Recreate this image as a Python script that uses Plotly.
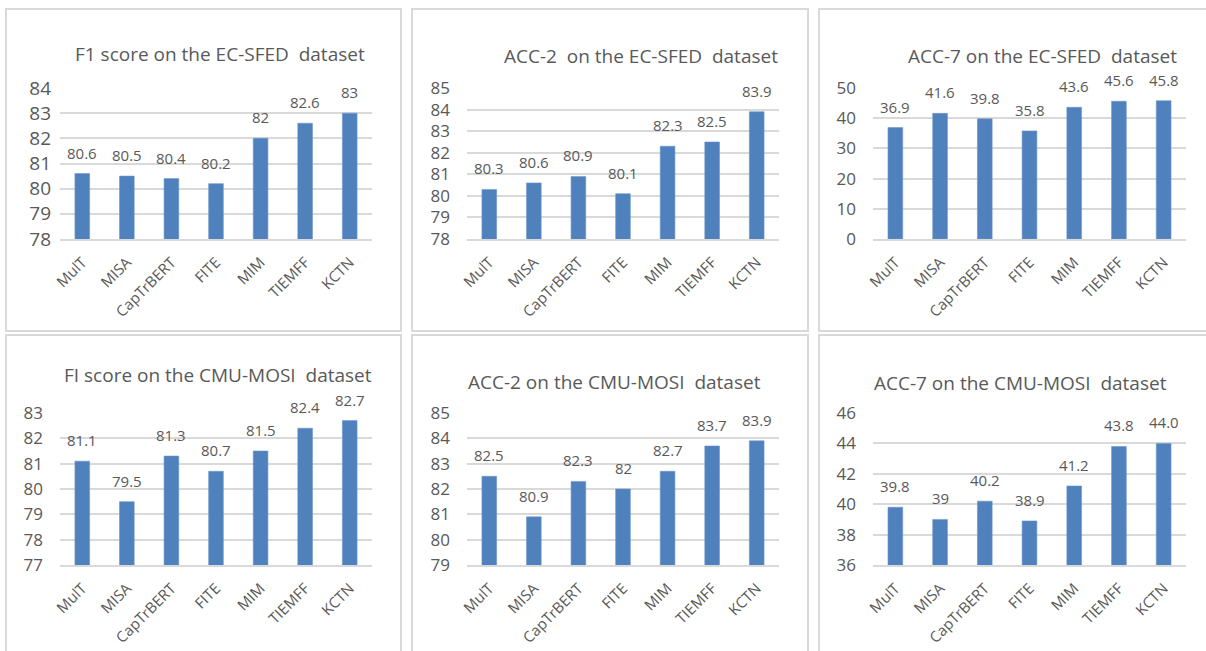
import plotly.graph_objects as go

# Models compared in every panel
models = ["MulT", "MISA", "CapTrBERT", "FITE", "MIM", "TIEMFF", "KCTN"]

# Scores as printed above the bars (strings keep the printed precision)
f1_ecsfed = ["80.6", "80.5", "80.4", "80.2", "82", "82.6", "83"]
acc2_ecsfed = ["80.3", "80.6", "80.9", "80.1", "82.3", "82.5", "83.9"]
acc7_ecsfed = ["36.9", "41.6", "39.8", "35.8", "43.6", "45.6", "45.8"]
f1_mosi = ["81.1", "79.5", "81.3", "80.7", "81.5", "82.4", "82.7"]
acc2_mosi = ["82.5", "80.9", "82.3", "82", "82.7", "83.7", "83.9"]
acc7_mosi = ["39.8", "39", "40.2", "38.9", "41.2", "43.8", "44.0"]

titles = [
    "F1 score on the EC-SFED&nbsp;&nbsp;dataset",
    "ACC-2&nbsp;&nbsp;on the EC-SFED&nbsp;&nbsp;dataset",
    "ACC-7 on the EC-SFED&nbsp;&nbsp;dataset",
    "FI score on the CMU-MOSI&nbsp;&nbsp;dataset",
    "ACC-2 on the CMU-MOSI&nbsp;&nbsp;dataset",
    "ACC-7 on the CMU-MOSI&nbsp;&nbsp;dataset",
]
series = [f1_ecsfed, acc2_ecsfed, acc7_ecsfed, f1_mosi, acc2_mosi, acc7_mosi]

# y-axis (min, max, step) per panel
y_scales = [(78, 84, 1), (78, 85, 1), (0, 50, 10), (77, 83, 1), (79, 85, 1), (36, 46, 2)]

W, H = 1206, 651
BAR = "#4F81BD"
GRID = "#D9D9D9"
TEXT = "#595959"
FONT = "Open Sans"

# Pixel layout of each panel: frame box, plot box, title centre
frames = [
    (6, 9, 401, 331), (412, 9, 808, 331), (819, 9, 1216, 331),
    (6, 335, 401, 660), (412, 335, 808, 660), (819, 335, 1216, 660),
]
plots = [
    (60, 88, 372, 239), (467, 88, 779, 239), (873, 88, 1186, 239),
    (60, 413, 372, 565), (467, 413, 779, 565), (873, 413, 1186, 565),
]
title_pos = [(220, 54), (641, 56), (1042, 56), (218, 375), (614, 382), (1020, 383)]
ytick_size = [19, 17, 17, 17, 17, 17]
ytick_gap = [8, 16, 16, 16, 16, 16]


def px(x):
    return x / W


def py(y):
    return 1 - y / H


fig = go.Figure()
layout = dict(
    width=W, height=H, autosize=False,
    margin=dict(l=0, r=0, t=0, b=0, pad=0, autoexpand=False),
    paper_bgcolor="white", plot_bgcolor="white",
    showlegend=False, bargap=0.67,
    font=dict(family=FONT, color=TEXT),
)
shapes = []
annotations = []

for i, (vals, title, (ymin, ymax, step)) in enumerate(zip(series, titles, y_scales)):
    n = i + 1
    xa = "x" if n == 1 else f"x{n}"
    ya = "y" if n == 1 else f"y{n}"
    nums = [float(v) for v in vals]
    fig.add_trace(go.Bar(
        x=models, y=nums, xaxis=xa, yaxis=ya,
        marker=dict(color=BAR, line=dict(color="#6F97CB", width=0.6)),
        hoverinfo="x+y",
    ))
    x0, y0, x1, y1 = plots[i]
    layout["xaxis" if n == 1 else f"xaxis{n}"] = dict(
        domain=[px(x0), px(x1)], anchor=ya, automargin=False,
        showgrid=False, showline=True, linecolor=GRID, linewidth=1.5,
        ticks="", tickangle=-45, tickfont=dict(size=15, color=TEXT),
        ticklabelstandoff=7, fixedrange=True,
    )
    layout["yaxis" if n == 1 else f"yaxis{n}"] = dict(
        domain=[py(y1), py(y0)], anchor=xa, automargin=False,
        range=[ymin, ymax], dtick=step, tick0=ymin,
        showgrid=True, gridcolor=GRID, gridwidth=1.5,
        showline=False, zeroline=False, ticks="",
        tickfont=dict(size=ytick_size[i], color=TEXT),
        ticklabelstandoff=ytick_gap[i], fixedrange=True,
    )
    fx0, fy0, fx1, fy1 = frames[i]
    shapes.append(dict(
        type="rect", xref="paper", yref="paper",
        x0=px(fx0), x1=px(fx1), y0=py(fy1), y1=py(fy0),
        line=dict(color=GRID, width=2), layer="below",
    ))
    tx, ty = title_pos[i]
    annotations.append(dict(
        text=title, xref="paper", yref="paper", x=px(tx), y=py(ty),
        xanchor="center", yanchor="middle", showarrow=False,
        font=dict(size=19, color=TEXT, family=FONT),
    ))
    for m, v, label in zip(models, nums, vals):
        annotations.append(dict(
            text=label, xref=xa, yref=ya, x=m, y=v,
            xanchor="center", yanchor="bottom", yshift=9, showarrow=False,
            font=dict(size=15, color=TEXT, family=FONT),
        ))

layout["shapes"] = shapes
layout["annotations"] = annotations
fig.update_layout(**layout)
fig.write_html("out.html")
